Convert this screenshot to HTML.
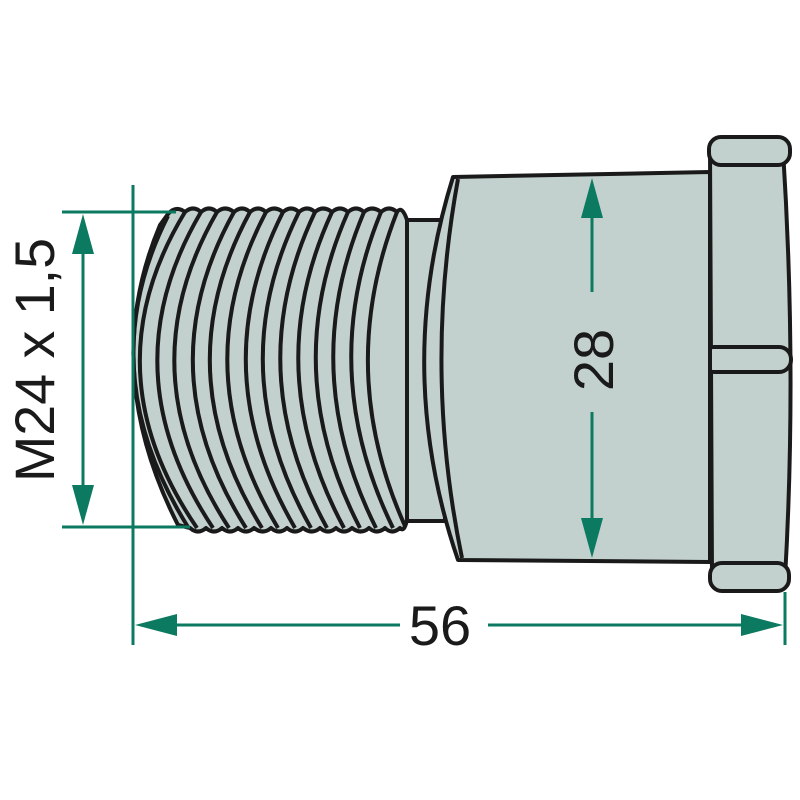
<!DOCTYPE html>
<html><head><meta charset="utf-8"><style>html,body{margin:0;padding:0;background:#fff}svg{display:block}</style></head>
<body>
<svg width="800" height="800" viewBox="0 0 800 800" xmlns="http://www.w3.org/2000/svg">
<g stroke="#1a1a1a" stroke-width="4" fill="#c3d1ce" stroke-linejoin="round">
  <path d="M710,150 L783,150 Q797,370 785,578 L712,578 Z"/>
  <rect x="709" y="137" width="81" height="28" rx="12"/>
  <rect x="702" y="347" width="89" height="25" rx="12"/>
  <rect x="710" y="563" width="79" height="28" rx="12"/>
  <path d="M395,220 L445,220 L445,521 L395,521 Z"/>
  <path d="M453,177 L710,172 L710,562 L458,560 Q393,370 453,177 Z"/>
  <path d="M458,179 Q423,370 462,558" fill="none"/>
  <path d="M160,225 L168,214 Q176,205 185,212 Q193,205 201,212 Q209,205 217,212 Q225,205 234,212 Q242,205 250,212 Q258,205 266,212 Q274,205 283,212 Q291,205 299,212 Q307,205 315,212 Q323,205 332,212 Q340,205 348,212 Q356,205 364,212 Q372,205 381,212 Q389,205 397,212 Q402,205 407,220 L407,520 Q404,533 400,528 Q392,535 385,528 Q377,535 369,528 Q361,535 352,528 Q344,535 336,528 Q328,535 320,528 Q312,535 303,528 Q295,535 287,528 Q279,535 271,528 Q263,535 254,528 Q246,535 238,528 Q230,535 222,528 Q214,535 206,528 Q198,535 190,528 L178,525 Q99,370 160,225 Z"/>
</g>
<g stroke="#1a1a1a" stroke-width="4" fill="none">
  <path d="M168,216 Q90,370 188,527"/>
  <path d="M185,212 Q89,370 197,528"/>
  <path d="M201,212 Q108,370 213,528"/>
  <path d="M217,212 Q126,370 229,528"/>
  <path d="M234,212 Q146,370 246,528"/>
  <path d="M250,212 Q164,370 262,528"/>
  <path d="M266,212 Q183,370 278,528"/>
  <path d="M283,212 Q203,370 295,528"/>
  <path d="M299,212 Q221,370 311,528"/>
  <path d="M315,212 Q240,370 327,528"/>
  <path d="M332,212 Q259,370 344,528"/>
  <path d="M348,212 Q278,370 360,528"/>
  <path d="M364,212 Q297,370 376,528"/>
  <path d="M381,212 Q316,370 393,528"/>
  <path d="M397,212 Q335,370 405,526"/>
</g>
<g stroke="#0b7a60" stroke-width="3" fill="none">
  <line x1="133" y1="185" x2="133" y2="645"/>
  <line x1="62" y1="212" x2="176" y2="212"/>
  <line x1="62" y1="527" x2="190" y2="527"/>
  <line x1="83" y1="245" x2="83" y2="495"/>
  <line x1="160" y1="625" x2="400" y2="625"/>
  <line x1="488" y1="625" x2="750" y2="625"/>
  <line x1="785" y1="592" x2="785" y2="645"/>
  <line x1="592" y1="210" x2="592" y2="292"/>
  <line x1="592" y1="412" x2="592" y2="525"/>
</g>
<g fill="#0b7a60">
  <polygon points="83,214 72,254 94,254"/>
  <polygon points="83,525 72,485 94,485"/>
  <polygon points="135,625 177,614 177,636"/>
  <polygon points="783,625 741,614 741,636"/>
  <polygon points="592,178 581,218 603,218"/>
  <polygon points="592,558 581,518 603,518"/>
</g>
<g font-family="Liberation Sans, sans-serif" fill="#1a1a1a">
  <text x="0" y="0" font-size="56" text-anchor="middle" textLength="244" lengthAdjust="spacingAndGlyphs" transform="translate(54,360) rotate(-90)">M24 x 1,5</text>
  <text x="440" y="645" font-size="56" text-anchor="middle">56</text>
  <text x="0" y="0" font-size="56" text-anchor="middle" transform="translate(613,360) rotate(-90)">28</text>
</g>
</svg>
</body></html>
